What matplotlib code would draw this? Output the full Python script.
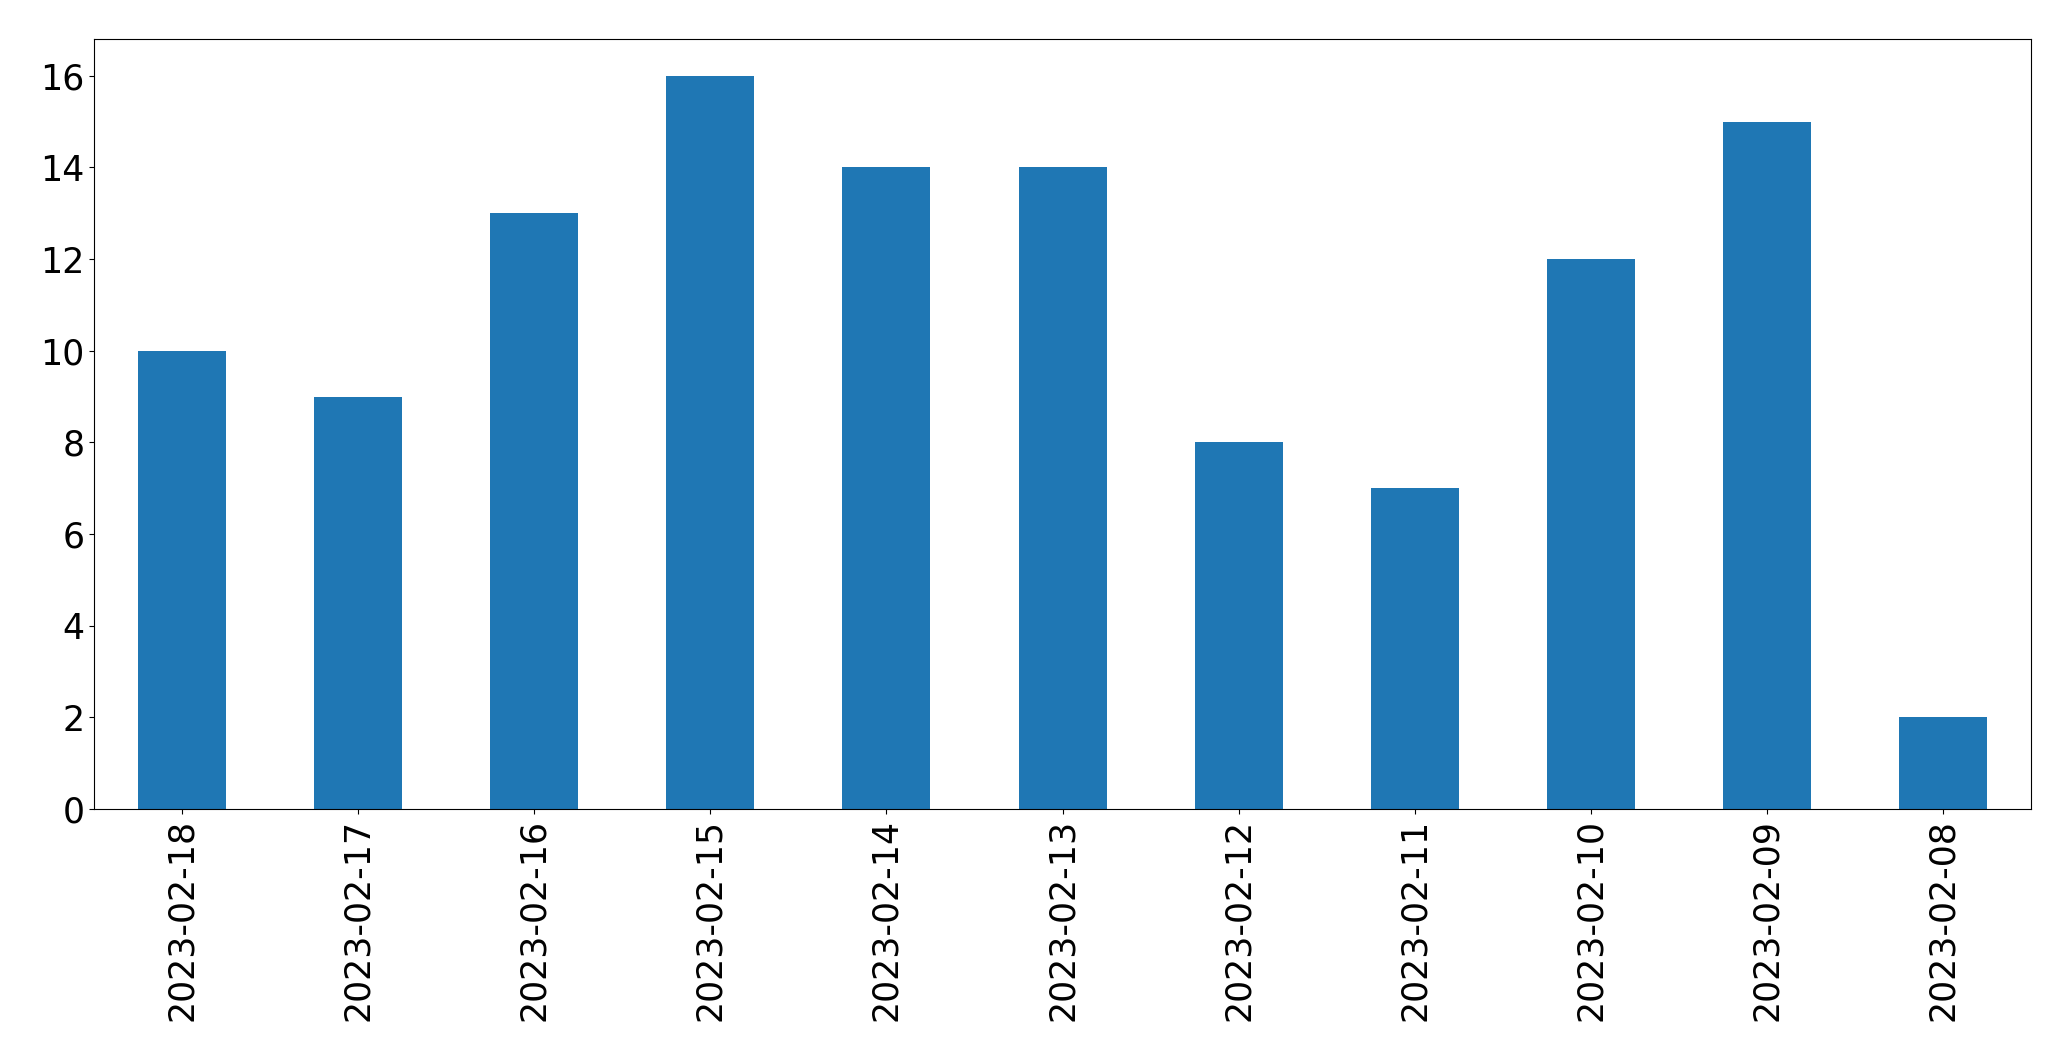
import matplotlib.pyplot as plt
import numpy as np

# Data
dates = ['2023-02-18', '2023-02-17', '2023-02-16', '2023-02-15', '2023-02-14',
         '2023-02-13', '2023-02-12', '2023-02-11', '2023-02-10', '2023-02-09',
         '2023-02-08']
counts = [10, 9, 13, 16, 14, 14, 8, 7, 12, 15, 2]

fig = plt.figure(figsize=(20.71, 10.61), dpi=100)
ax = fig.add_axes([0.0454, 0.2375, 0.9353, 0.7257])

x = np.arange(len(dates))
ax.bar(x, counts, width=0.5, color='#1f77b4')
ax.set_xlim(-0.5, len(dates) - 0.5)
ax.set_ylim(0, max(counts) * 1.05)
ax.set_xticks(x)
ax.set_xticklabels(dates, rotation=90)
ax.tick_params(labelsize=25)

plt.savefig('out.png', dpi=100)
plt.close()
